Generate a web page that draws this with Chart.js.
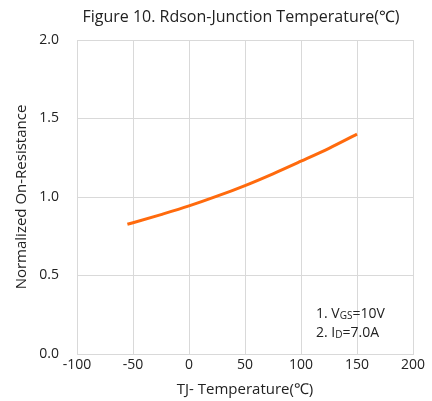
<!DOCTYPE html>
<html>
<head>
<meta charset="utf-8">
<script src="https://cdn.jsdelivr.net/npm/chart.js@4"></script>
<style>
  html, body { margin: 0; padding: 0; background: #fff; }
  #wrap { width: 432px; height: 401px; }
</style>
</head>
<body>
<div id="wrap"><canvas id="rdsonChart" width="432" height="401"></canvas></div>
<script>
// curve
const temps = [-55, -50, -25, 0, 25, 50, 75, 100, 125, 150];
const rdson = [0.826, 0.836, 0.888, 0.943, 1.005, 1.073, 1.148, 1.228, 1.31, 1.40];
const chartTitle = "Figure 10. Rdson-Junction Temperature(℃)";
const noteLines = [
  ["1. V", "GS", "=10V"],
  ["2. I", "D", "=7.0A"]
];

const FONT = "'Open Sans', 'Noto Sans', sans-serif";

// title + conditions text drawn on top
const textPlugin = {
  id: "texts",
  afterDraw(chart) {
    const c = chart.ctx;
    c.save();
    c.fillStyle = "#222";
    c.font = "16px " + FONT;
    c.textAlign = "center";
    c.textBaseline = "middle";
    c.fillText(chartTitle, 241, 17);

    c.textAlign = "left";
    c.textBaseline = "alphabetic";
    let y = 318;
    noteLines.forEach((parts) => {
      let x = 316;
      c.font = "14px " + FONT;
      c.fillText(parts[0], x, y);
      x += c.measureText(parts[0]).width;
      c.font = "10px " + FONT;
      c.fillText(parts[1], x, y + 1);
      x += c.measureText(parts[1]).width;
      c.font = "14px " + FONT;
      c.fillText(parts[2], x, y);
      y += 19;
    });
    c.restore();
  }
};

const ctx = document.getElementById("rdsonChart").getContext("2d");
new Chart(ctx, {
  type: "line",
  data: {
    datasets: [{
      data: temps.map((t, i) => ({ x: t, y: rdson[i] })),
      borderColor: "#ff6a0d",
      borderWidth: 3,
      pointRadius: 0,
      cubicInterpolationMode: "monotone",
      fill: false
    }]
  },
  options: {
    responsive: false,
    animation: false,
    layout: { padding: { top: 40, right: 19, bottom: 0, left: 0 } },
    plugins: {
      legend: { display: false },
      tooltip: { enabled: false },
      title: { display: false }
    },
    scales: {
      x: {
        type: "linear",
        min: -100,
        max: 200,
        ticks: { stepSize: 50, color: "#222", font: { family: FONT, size: 14 }, padding: 3 },
        grid: { color: "#d9d9d9", drawTicks: false },
        border: { color: "#d9d9d9" },
        title: {
          display: true,
          text: "TJ- Temperature(℃)",
          color: "#222",
          font: { family: FONT, size: 15 },
          padding: { top: 2, bottom: 2 }
        },
        afterFit(scale) { scale.height = 47; }
      },
      y: {
        min: 0,
        max: 2,
        ticks: {
          stepSize: 0.5,
          color: "#222",
          font: { family: FONT, size: 14 },
          padding: 18,
          callback: (v) => v.toFixed(1)
        },
        grid: { color: "#d9d9d9", drawTicks: false },
        border: { color: "#d9d9d9" },
        title: {
          display: true,
          text: "Normalized On-Resistance",
          color: "#222",
          font: { family: FONT, size: 15 },
          padding: { top: 13, bottom: 2 }
        },
        afterFit(scale) { scale.width = 77; }
      }
    }
  },
  plugins: [textPlugin]
});
</script>
</body>
</html>
